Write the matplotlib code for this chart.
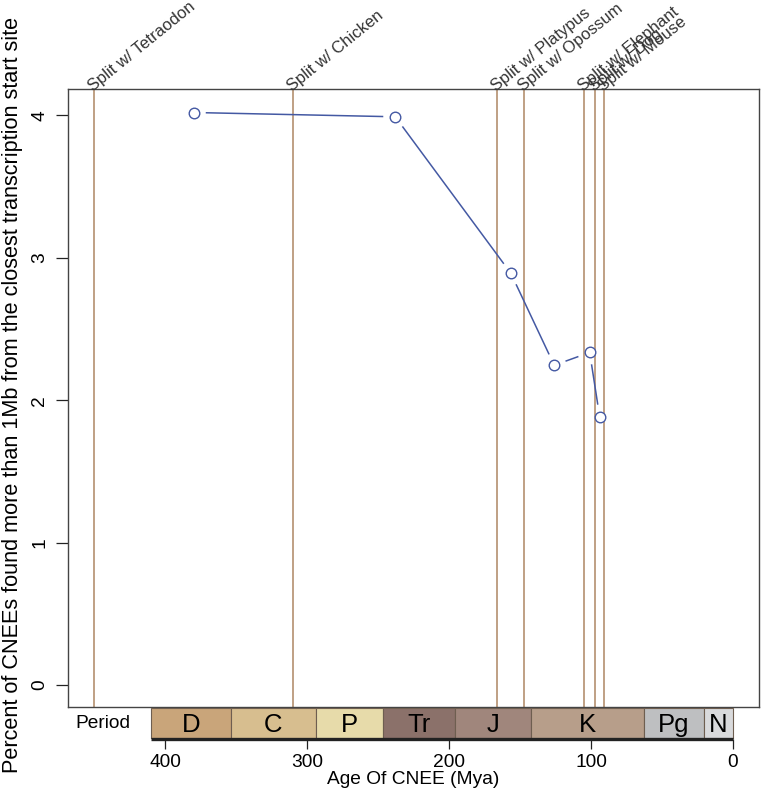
import numpy as np
import matplotlib
matplotlib.use('Agg')
import matplotlib.pyplot as plt
import matplotlib.transforms as mtransforms

plt.rcParams['font.family'] = ['Liberation Sans', 'DejaVu Sans']

# ---- data ----
ages = [380, 238, 156.5, 126, 101, 94]
pct = [4.02, 3.99, 2.89, 2.245, 2.335, 1.885]

split_names = ['Tetraodon', 'Chicken', 'Platypus', 'Opossum', 'Elephant', 'Dog', 'Mouse']
split_ages = [450, 310, 166, 147, 105, 97, 91]

period_names = ['D', 'C', 'P', 'Tr', 'J', 'K', 'Pg', 'N']
period_bounds = [410.2, 353.9, 294.1, 246.9, 195.7, 142.4, 62.7, 20.8, 0]
period_colors = ['#C9A57A', '#D7BE8F', '#E7DBAA', '#8B716A', '#A0867C',
                 '#B79E8A', '#BEBFC1', '#D9DADC']

xticks = [400, 300, 200, 100, 0]
yticks = [0, 1, 2, 3, 4]

W, H = 764, 800
fig = plt.figure(figsize=(W / 100, H / 100), dpi=100)

def px_rect(x0, y0, x1, y1):
    return [x0 / W, 1 - y1 / H, (x1 - x0) / W, (y1 - y0) / H]

XLIM = (468.4, -18.3)
ax = fig.add_axes(px_rect(68.3, 89.3, 759, 707.3))
ax.set_xlim(*XLIM)
ax.set_ylim(-0.157, 4.183)

line_col = '#4459A3'
split_col = '#B4906F'

for a in split_ages:
    ax.axvline(a, color=split_col, lw=1.2, zorder=1)

lab_off = mtransforms.ScaledTranslation(-4 / 100, 1 / 100, fig.dpi_scale_trans)
for name, a in zip(split_names, split_ages):
    ax.text(a, 1.0, 'Split w/ ' + name,
            transform=ax.get_xaxis_transform() + lab_off,
            rotation=39, rotation_mode='anchor', ha='left', va='center',
            fontsize=12, color='#333333', clip_on=False)

# line with gaps around points (type="b")
pts = ax.transData.transform(np.column_stack([ages, pct]))
gap = 12.0
for i in range(len(pts) - 1):
    p0, p1 = pts[i], pts[i + 1]
    d = p1 - p0
    L = np.hypot(*d)
    if L > 2 * gap:
        u = d / L
        q = ax.transData.inverted().transform(np.array([p0 + u * gap, p1 - u * gap]))
        ax.plot(q[:, 0], q[:, 1], color=line_col, lw=1.1, zorder=3,
                solid_capstyle='butt')
ax.plot(ages, pct, ls='none', marker='o', ms=7.6, mfc='white', mec=line_col,
        mew=1.0, zorder=4)

for s in ax.spines.values():
    s.set_color('#444444')
    s.set_linewidth(1.0)
ax.set_xticks([])
ax.set_yticks(yticks)
ax.tick_params(axis='y', length=8.6, width=0.9, labelsize=13.8, pad=6,
               labelrotation=90, color='#222222')
for lab in ax.get_yticklabels():
    lab.set_va('center')
ax.set_ylabel('Percent of CNEEs found more than 1Mb from the closest transcription start site',
              fontsize=15.6)
ax.yaxis.set_label_coords(-0.066, 0.505)

# ---- geological timescale bar ----
ax2 = fig.add_axes(px_rect(68.3, 708, 759, 739.3))
ax2.set_xlim(*XLIM)
ax2.set_ylim(0, 1)
ax2.set_facecolor('none')
for s in ax2.spines.values():
    s.set_visible(False)
lefts = np.array(period_bounds[:-1])
rights = np.array(period_bounds[1:])
ax2.bar(lefts, 1, width=rights - lefts, align='edge', color=period_colors,
        edgecolor='#6E5E50', linewidth=0.8, zorder=2)
for name, l, r in zip(period_names, lefts, rights):
    ax2.text((l + r) / 2, 0.47, name, ha='center', va='center', fontsize=18.5,
             color='black', zorder=3)
ax2.plot([period_bounds[0], period_bounds[-1]], [0.02, 0.02], color='#222222',
         lw=2.4, solid_capstyle='butt', zorder=4, clip_on=False)
ax2.text(444, 0.5, 'Period', ha='center', va='center', fontsize=13.8)
ax2.set_yticks([])
ax2.set_xticks(xticks)
ax2.tick_params(axis='x', length=7.5, width=0.9, labelsize=13.8, pad=3,
                color='#222222')
ax2.set_xlabel('Age Of CNEE (Mya)', fontsize=13.8, labelpad=0)

fig.savefig('out.png', dpi=100)
